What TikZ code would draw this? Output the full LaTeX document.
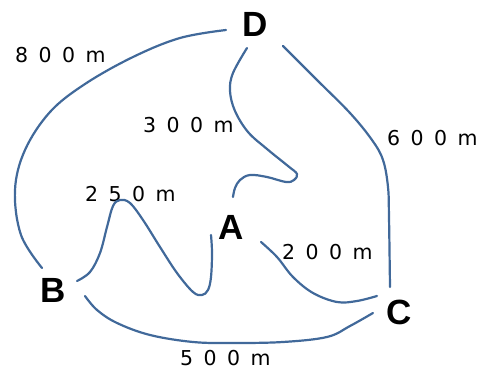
\documentclass[tikz,border=0pt]{standalone}
\usepackage{fontspec}
\setmainfont{Liberation Sans}
\newfontfamily\digitfont{DejaVu Sans}
\definecolor{route}{HTML}{41699A}
\newcommand\spacedlab[4]{\makebox[23.5pt][l]{#1}\makebox[23.5pt][l]{#2}\makebox[23.5pt][l]{#3}#4}
\tikzset{
  place/.style={inner sep=0pt, font=\fontsize{35}{35}\selectfont\bfseries},
  dist/.style={inner sep=0pt, anchor=west, font=\digitfont\fontsize{20.5}{20.5}\selectfont},
  road/.style={draw=route, line width=2.2pt, line cap=round}
}
\begin{document}
\begin{tikzpicture}[x=1pt, y=-1pt]
\useasboundingbox (0,0) rectangle (483,371);
% places
\node[place] (D) at (255,24) {D};
\node[place] (A) at (231,227) {A};
\node[place] (B) at (53,290) {B};
\node[place] (C) at (399,312) {C};
% distance labels
\node[dist] (l800) at (15,55) {\spacedlab{8}{0}{0}{m}};
\node[dist] (l300) at (143,125) {\spacedlab{3}{0}{0}{m}};
\node[dist] (l600) at (387,138) {\spacedlab{6}{0}{0}{m}};
\node[dist] (l250) at (85,194) {\spacedlab{2}{5}{0}{m}};
\node[dist] (l200) at (282,252) {\spacedlab{2}{0}{0}{m}};
\node[dist] (l500) at (180,358) {\spacedlab{5}{0}{0}{m}};
% curve end points
\coordinate (DB1) at (226,30);  \coordinate (DB2) at (42,268);
\coordinate (DA1) at (247,48);  \coordinate (DA2) at (233,197);
\coordinate (DC1) at (283,46);  \coordinate (DC2) at (390,287);
\coordinate (BA1) at (77,281);  \coordinate (BA2) at (211,235);
\coordinate (AC1) at (261,242); \coordinate (AC2) at (377,296);
\coordinate (BC1) at (85,296);  \coordinate (BC2) at (373,313);
% roads
\draw[road] plot[smooth, tension=0.6] coordinates {(DB1) (180,38) (133,57) (85,84) (50,112) (25,150) (15,190) (21,235) (DB2)};
\draw[road] plot[smooth, tension=0.6] coordinates {(DA1) (233,73) (230,91) (235,111) (248,132) (267,149) (288,166) (297,174) (294,180) (286,182) (267,177) (250,175) (240,180) (235,188) (DA2)};
\draw[road] plot[smooth, tension=0.6] coordinates {(DC1) (317,80) (350,113) (372,140) (383,160) (388,187) (389,217) (DC2)};
\draw[road] plot[smooth, tension=0.6] coordinates {(BA1) (90,272) (100,253) (107,227) (113,206) (120,200) (130,203) (143,220) (160,247) (177,273) (193,292) (202,295) (208,290) (211,277) (212,253) (BA2)};
\draw[road] plot[smooth, tension=0.6] coordinates {(AC1) (277,257) (293,277) (313,293) (337,302) (357,301) (AC2)};
\draw[road] plot[smooth, tension=0.6] coordinates {(BC1) (97,310) (117,323) (150,335) (193,342) (233,343) (283,342) (327,337) (350,326) (BC2)};
\end{tikzpicture}
\end{document}
